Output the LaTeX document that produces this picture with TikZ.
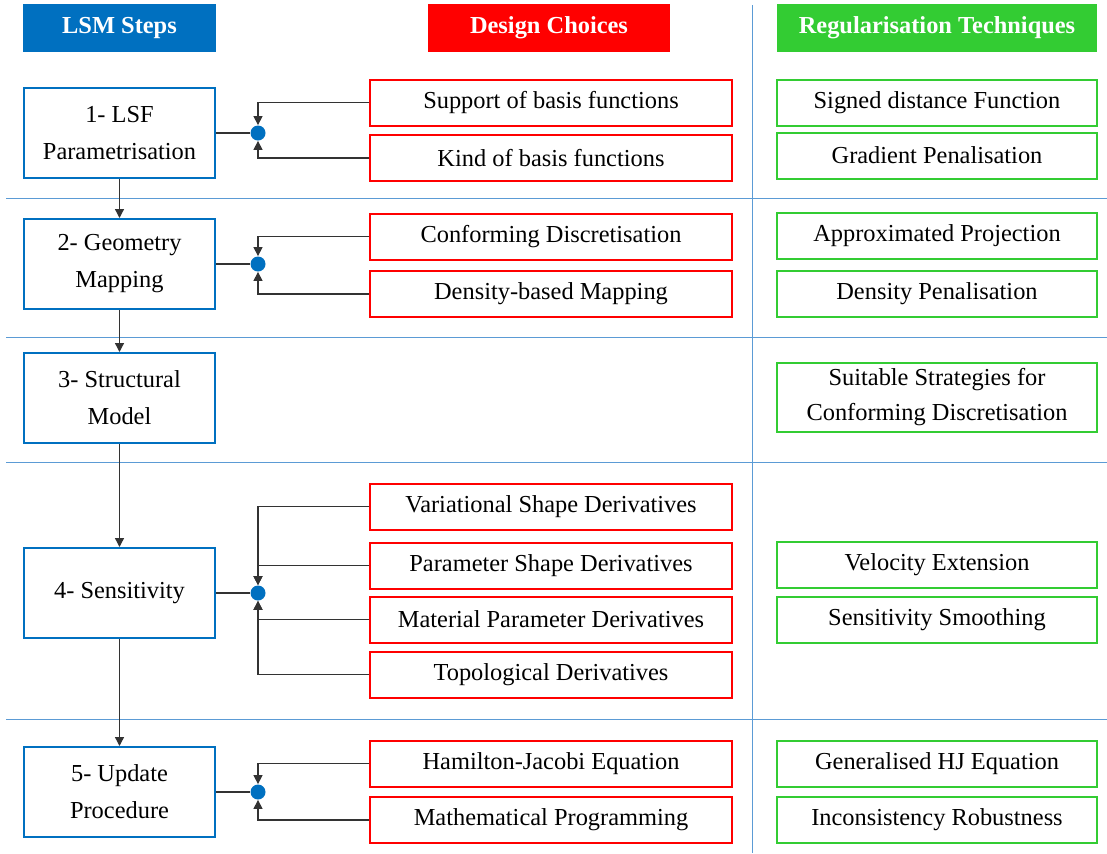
\documentclass[tikz,border=0pt]{standalone}
\usepackage{fontspec}
\setmainfont{Liberation Serif}
\usepackage{tikz}
\usetikzlibrary{arrows.meta}
\definecolor{lsmblue}{HTML}{0070C0}
\definecolor{lsmred}{HTML}{FF0000}
\definecolor{lsmgreen}{HTML}{33CC33}
\definecolor{sepblue}{HTML}{5B9BD5}

\begin{document}
\begin{tikzpicture}[x=0.5pt,y=-0.5pt,
  font=\fontsize{12.2}{18.5}\selectfont,
  every node/.style={inner sep=0pt,align=center},
  head/.style={minimum height=24pt,text=white,font=\fontsize{12.2}{14}\selectfont\bfseries},
  stepbox/.style={draw=lsmblue,line width=1pt,minimum width=95.5pt,minimum height=45pt},
  choice/.style={draw=lsmred,line width=1pt,minimum width=181pt,minimum height=23pt},
  regbox/.style={draw=lsmgreen,line width=1pt,minimum width=160pt,minimum height=23pt},
  joint/.style={circle,fill=lsmblue,minimum size=7.5pt},
  link/.style={line width=0.65pt,black!80},
  arr/.style={link,-{Triangle[length=4.5pt,width=4.5pt]}},
  sep/.style={sepblue,line width=0.5pt}]
\fill[white] (0,0) rectangle (1107,853);
\useasboundingbox (0,0) rectangle (1107,853);

\foreach \y in {198,337,462,719} \draw[sep] (6,\y) -- (1107,\y);
\draw[sep] (752,5) -- (752,853);

\node[head,fill=lsmblue,minimum width=96.5pt] (h1) at (119.5,28) {LSM Steps};
\node[head,fill=lsmred,minimum width=121pt] (h2) at (549,28) {Design Choices};
\node[head,fill=lsmgreen,minimum width=160pt] (h3) at (937,28) {Regularisation Techniques};

\node[stepbox] (s1) at (119.5,133) {1- LSF\\Parametrisation};
\node[stepbox] (s2) at (119.5,264) {2- Geometry\\Mapping};
\node[stepbox] (s3) at (119.5,398) {3- Structural\\Model};
\node[stepbox] (s4) at (119.5,593) {4- Sensitivity};
\node[stepbox] (s5) at (119.5,792) {5- Update\\Procedure};

\node[joint] (j1) at (258,133) {};
\node[joint] (j2) at (258,264) {};
\node[joint] (j4) at (258,593) {};
\node[joint] (j5) at (258,792) {};

\node[choice] (c11) at (551,102.5) {Support of basis functions};
\node[choice] (c12) at (551,158) {Kind of basis functions};
\node[choice] (c21) at (551,236.5) {Conforming Discretisation};
\node[choice] (c22) at (551,294) {Density-based Mapping};
\node[choice] (c41) at (551,506.5) {Variational Shape Derivatives};
\node[choice] (c42) at (551,565.5) {Parameter Shape Derivatives};
\node[choice] (c43) at (551,619.5) {Material Parameter Derivatives};
\node[choice] (c44) at (551,674.5) {Topological Derivatives};
\node[choice] (c51) at (551,763.5) {Hamilton-Jacobi Equation};
\node[choice] (c52) at (551,820) {Mathematical Programming};

\node[regbox] (r11) at (937,102.5) {Signed distance Function};
\node[regbox] (r12) at (937,155.5) {Gradient Penalisation};
\node[regbox] (r21) at (937,235.5) {Approximated Projection};
\node[regbox] (r22) at (937,293.5) {Density Penalisation};
\node[regbox,minimum height=34.5pt,font=\fontsize{12.2}{17.5}\selectfont] (r31) at (937,397.5) {Suitable Strategies for\\Conforming Discretisation};
\node[regbox] (r41) at (937,565) {Velocity Extension};
\node[regbox] (r42) at (937,619.5) {Sensitivity Smoothing};
\node[regbox] (r51) at (937,763.5) {Generalised HJ Equation};
\node[regbox] (r52) at (937,820) {Inconsistency Robustness};

\draw[arr] (s1) -- (s2);
\draw[arr] (s2) -- (s3);
\draw[arr] (s3) -- (s4);
\draw[arr] (s4) -- (s5);

\foreach \s/\j in {s1/j1,s2/j2,s4/j4,s5/j5} \draw[link] (\s) -- (\j);
\foreach \c/\j in {c11/j1,c12/j1,c21/j2,c22/j2,c41/j4,c42/j4,c43/j4,c44/j4,c51/j5,c52/j5}
  \draw[arr] (\c) -| (\j);
\end{tikzpicture}
\end{document}
